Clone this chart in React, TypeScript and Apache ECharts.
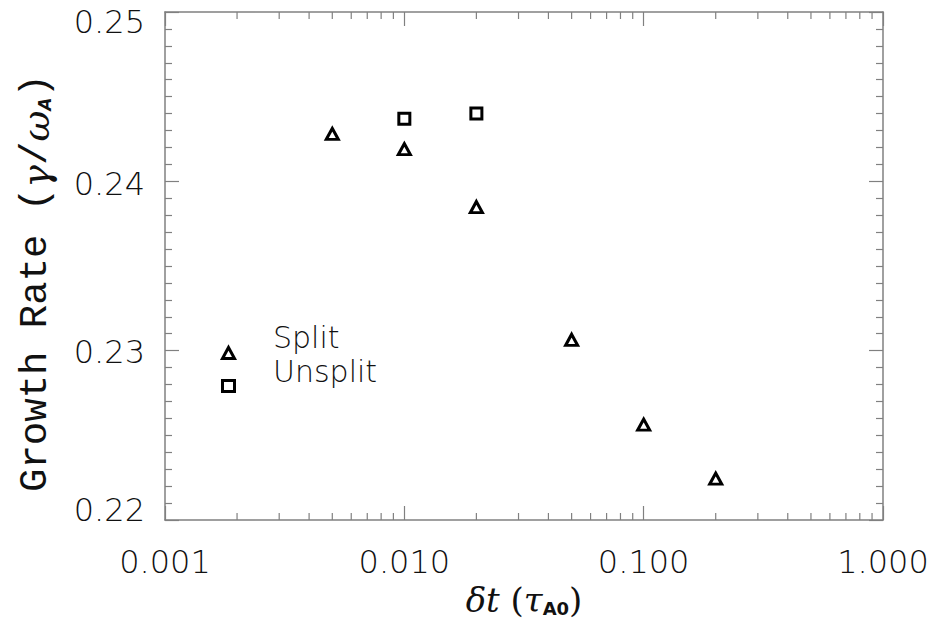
import React, { useEffect, useRef } from "react";
import * as echarts from "echarts";

// Time step (in units of tau_A0) and measured growth rates
const splitDt = [0.005, 0.01, 0.02, 0.05, 0.1, 0.2];
const splitGrowth = [0.2428, 0.2419, 0.23848, 0.23064, 0.22563, 0.22244];
const unsplitDt = [0.01, 0.02];
const unsplitGrowth = [0.2437, 0.244];

// Series names, as shown beside the legend symbols
const seriesNames = ["Split", "Unsplit"];

// Axis ranges
const xMin = 0.001;
const xMax = 1;
const yMin = 0.22;
const yMax = 0.25;
const yStep = 0.01;

// Log-axis minor tick positions (2..9 in each decade)
const decades = [0.001, 0.01, 0.1];
const minorMultipliers = [2, 3, 4, 5, 6, 7, 8, 9];

const AXIS_COLOR = "#808080";
const TEXT_COLOR = "#111";
const LABEL_FONT = "'DejaVu Sans', sans-serif";
const MONO_FONT = "'Liberation Mono', 'DejaVu Sans Mono', monospace";
const MATH_FONT = "'DejaVu Serif', serif";

// vertical nudges (px, positive = down) for the y tick labels, top to bottom
const yLabelNudge: Record<string, number> = { "0.25": 10, "0.24": 3, "0.23": 1, "0.22": -10 };

export default function App() {
  const ref = useRef<HTMLDivElement>(null);

  useEffect(() => {
    if (!ref.current) return;
    const chart = echarts.init(ref.current, undefined, { renderer: "svg" });

    const minorTicks: number[][] = [];
    decades.forEach((d) =>
      minorMultipliers.forEach((m) => minorTicks.push([d * m, yMin]))
    );

    const commonX = {
      type: "log" as const,
      logBase: 10,
      min: xMin,
      max: xMax,
      splitLine: { show: false },
      axisLine: { lineStyle: { color: AXIS_COLOR, width: 1.5 } },
      axisTick: { inside: true, length: 14, lineStyle: { color: AXIS_COLOR, width: 1.2 } },
    };
    const commonY = {
      type: "value" as const,
      min: yMin,
      max: yMax,
      interval: yStep,
      scale: true,
      splitLine: { show: false },
      axisLine: { show: true, lineStyle: { color: AXIS_COLOR, width: 1.5 } },
      axisTick: { inside: true, length: 14, lineStyle: { color: AXIS_COLOR, width: 1.2 } },
      minorTick: { show: true, splitNumber: 10, length: 7, lineStyle: { color: AXIS_COLOR, width: 1.2 } },
    };

    const symbolStyle = {
      color: "rgba(255,255,255,0)",
      borderColor: "#000",
      borderWidth: 3,
      opacity: 1,
    };

    const yTickRich: Record<string, any> = {};
    Object.keys(yLabelNudge).forEach((k, i) => {
      const d = yLabelNudge[k];
      yTickRich["n" + i] = {
        fontFamily: LABEL_FONT,
        fontWeight: 200,
        fontSize: 32,
        color: TEXT_COLOR,
        padding: d >= 0 ? [2 * d, 0, 0, 0] : [0, 0, -2 * d, 0],
      };
    });

    const legendTextStyle = {
      fontFamily: LABEL_FONT,
      fontWeight: 200,
      fontSize: 30,
      fill: TEXT_COLOR,
      verticalAlign: "middle",
    };

    chart.setOption({
      animation: false,
      backgroundColor: "#fff",
      grid: { left: 165, top: 12, width: 718, height: 508 },
      legend: {
        orient: "vertical",
        left: 216,
        top: 341,
        itemWidth: 12,
        itemHeight: 11,
        itemGap: 19,
        data: seriesNames,
        itemStyle: { borderWidth: 3, borderColor: "#000", color: "rgba(255,255,255,0)", opacity: 1 },
        // names are set slightly above their symbols as separate texts
        formatter: () => "",
      },
      graphic: [
        { type: "text", left: 273, top: 322, style: { ...legendTextStyle, text: seriesNames[0] } },
        { type: "text", left: 273, top: 356, style: { ...legendTextStyle, text: seriesNames[1] } },
      ],
      xAxis: [
        {
          ...commonX,
          position: "bottom",
          name: "{i|δt}{n| (}{i|τ}{s|A0}{n|)}",
          nameLocation: "middle",
          nameGap: 42,
          nameTextStyle: {
            rich: {
              i: { fontFamily: MATH_FONT, fontStyle: "italic", fontSize: 34, color: TEXT_COLOR },
              n: { fontFamily: MATH_FONT, fontSize: 34, color: TEXT_COLOR },
              s: { fontFamily: LABEL_FONT, fontWeight: "bold", fontSize: 18, color: TEXT_COLOR, padding: [18, 0, 0, 0] },
            },
          },
          axisLabel: {
            margin: 26,
            fontFamily: LABEL_FONT,
            fontWeight: 200,
            fontSize: 32,
            color: TEXT_COLOR,
            formatter: (v: number) => v.toFixed(3),
          },
        },
        { ...commonX, position: "top", axisLabel: { show: false } },
      ],
      yAxis: [
        {
          ...commonY,
          position: "left",
          name: "{t|Growth Rate (}{m|γ}{t|/}{m|ω}{s|A}{t|)}",
          nameLocation: "middle",
          nameRotate: 90,
          nameGap: 110,
          nameTextStyle: {
            padding: [0, 34, 0, 0],
            rich: {
              t: { fontFamily: MONO_FONT, fontSize: 39, color: TEXT_COLOR },
              m: { fontFamily: MATH_FONT, fontStyle: "italic", fontSize: 38, color: TEXT_COLOR },
              s: { fontFamily: LABEL_FONT, fontStyle: "italic", fontWeight: "bold", fontSize: 17, color: TEXT_COLOR, padding: [19, 0, 0, 0] },
            },
          },
          axisLabel: {
            margin: 20,
            fontFamily: LABEL_FONT,
            fontWeight: 200,
            fontSize: 32,
            color: TEXT_COLOR,
            formatter: (v: number) => {
              const s = v.toFixed(2);
              const i = Object.keys(yLabelNudge).indexOf(s);
              return i >= 0 ? `{n${i}|${s}}` : s;
            },
            rich: yTickRich,
          },
        },
        { ...commonY, position: "right", axisLabel: { show: false } },
      ],
      series: [
        {
          name: seriesNames[0],
          type: "scatter",
          symbol: "triangle",
          symbolSize: [12, 11],
          itemStyle: symbolStyle,
          data: splitDt.map((x, i) => [x, splitGrowth[i]]),
          z: 5,
        },
        {
          name: seriesNames[1],
          type: "scatter",
          symbol: "rect",
          symbolSize: 11,
          itemStyle: symbolStyle,
          data: unsplitDt.map((x, i) => [x, unsplitGrowth[i]]),
          z: 5,
        },
        {
          // minor ticks for the logarithmic x axes (bottom and top)
          type: "custom",
          silent: true,
          clip: false,
          xAxisIndex: 0,
          yAxisIndex: 0,
          data: minorTicks,
          renderItem: (params: any, api: any) => {
            const x = api.value(0);
            const bottom = api.coord([x, yMin]);
            const top = api.coord([x, yMax]);
            const style = { stroke: AXIS_COLOR, lineWidth: 1.2 };
            return {
              type: "group",
              children: [
                { type: "line", shape: { x1: bottom[0], y1: bottom[1], x2: bottom[0], y2: bottom[1] - 7 }, style },
                { type: "line", shape: { x1: top[0], y1: top[1], x2: top[0], y2: top[1] + 7 }, style },
              ],
            };
          },
        },
      ],
    });

    return () => chart.dispose();
  }, []);

  return (
    <div
      ref={ref}
      style={{ position: "absolute", left: 0, top: 0, width: 948, height: 624 }}
    />
  );
}
